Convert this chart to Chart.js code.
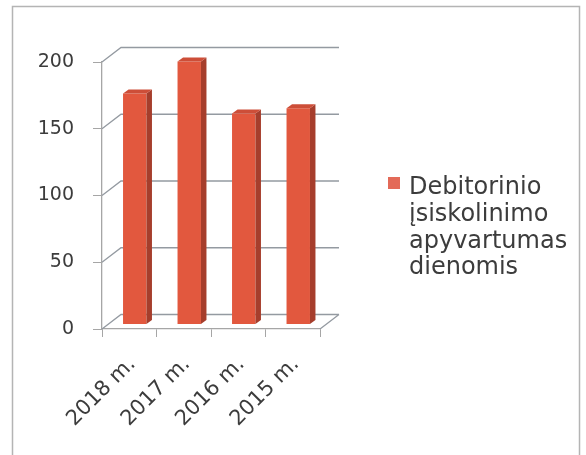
<!DOCTYPE html>
<html>
<head>
<meta charset="utf-8">
<script src="https://cdn.jsdelivr.net/npm/chart.js@4/dist/chart.umd.min.js"></script>
<style>
  body { margin: 0; background: #fff; }
  #wrap { width: 586px; height: 455px; }
</style>
</head>
<body>
<div id="wrap"><canvas id="debtChart" width="586" height="455"></canvas></div>
<script>
// Data
const categories = ['2018 m.', '2017 m.', '2016 m.', '2015 m.'];
const seriesLabel = 'Debitorinio įsiskolinimo apyvartumas dienomis';
const seriesValues = [173, 197, 158, 162];
const yTicks = [0, 50, 100, 150, 200];

// 3D look
const WALL_DX = 19, WALL_DY = -14.5;   // back wall offset
const BAR_DX = 5.5, BAR_DY = -4.5;     // bars sit a bit into the box
const DEPTH_X = 5.5, DEPTH_Y = -4;     // bar depth
const FRONT = '#e2583e', SIDE = '#a63e2c', TOP = '#cd4e38';
const GRID = '#949aa1', AXIS = '#a6a6a6', TEXT = '#3c3c3c';
const FONT = '"DejaVu Sans", sans-serif';

function poly(ctx, pts, fill) {
    ctx.beginPath();
    ctx.moveTo(pts[0][0], pts[0][1]);
    pts.slice(1).forEach(p => ctx.lineTo(p[0], p[1]));
    ctx.closePath();
    ctx.fillStyle = fill;
    ctx.fill();
}

const box3d = {
    id: 'box3d',
    beforeDraw(chart) {
        const ctx = chart.ctx;
        ctx.save();
        ctx.strokeStyle = '#b4b4b4';
        ctx.lineWidth = 1.5;
        ctx.strokeRect(12.5, 6.5, 567, 470);
        ctx.restore();
    },
    beforeDatasetsDraw(chart) {
        const { ctx, chartArea: a, scales: { y } } = chart;
        ctx.save();
        ctx.strokeStyle = GRID;
        ctx.lineWidth = 1.3;
        ctx.beginPath();
        yTicks.forEach(v => {
            const py = y.getPixelForValue(v);
            ctx.moveTo(a.left, py);
            ctx.lineTo(a.left + WALL_DX, py + WALL_DY);
            ctx.lineTo(a.right + WALL_DX, py + WALL_DY);
        });
        ctx.moveTo(a.right, a.bottom);
        ctx.lineTo(a.right + WALL_DX, a.bottom + WALL_DY);
        ctx.stroke();
        ctx.restore();
        // shift the bars into the middle of the box
        ctx.save();
        ctx.translate(BAR_DX, BAR_DY);
    },
    afterDatasetsDraw(chart) {
        const ctx = chart.ctx;
        chart.getDatasetMeta(0).data.forEach(bar => {
            const { x, y, base, width } = bar.getProps(['x', 'y', 'base', 'width'], true);
            const l = x - width / 2, r = x + width / 2;
            poly(ctx, [[r, y], [r + DEPTH_X, y + DEPTH_Y], [r + DEPTH_X, base + DEPTH_Y], [r, base]], SIDE);
            poly(ctx, [[l, y], [l + DEPTH_X, y + DEPTH_Y], [r + DEPTH_X, y + DEPTH_Y], [r, y]], TOP);
        });
        ctx.restore();
    },
    afterDraw(chart) {
        // legend, one word per line like the original
        const ctx = chart.ctx;
        ctx.save();
        ctx.fillStyle = '#e36a58';
        ctx.fillRect(388, 177, 12, 12);
        ctx.fillStyle = TEXT;
        ctx.font = '24px ' + FONT;
        ctx.textBaseline = 'middle';
        seriesLabel.split(' ').forEach((word, i) => {
            ctx.fillText(word, 409, 188 + i * 26.7);
        });
        ctx.restore();
    }
};

const ctx = document.getElementById('debtChart').getContext('2d');
new Chart(ctx, {
    type: 'bar',
    data: {
        labels: categories,
        datasets: [{
            label: seriesLabel,
            data: seriesValues,
            backgroundColor: FRONT,
            borderWidth: 0,
            categoryPercentage: 1,
            barPercentage: 0.43,
            clip: false,
        }],
    },
    options: {
        responsive: false,
        animation: false,
        layout: { padding: { left: 0, top: 62, right: 266, bottom: 0 } },
        plugins: {
            legend: { display: false },
            tooltip: { enabled: false },
        },
        scales: {
            y: {
                min: 0,
                max: 200,
                afterFit: s => { s.width = 102; },
                ticks: {
                    stepSize: 50,
                    padding: 19,
                    color: TEXT,
                    font: { family: FONT, size: 19 },
                },
                grid: { drawOnChartArea: false, tickLength: 9, color: AXIS },
                border: { color: AXIS, width: 1.3 },
            },
            x: {
                afterFit: s => { s.height = 126; },
                ticks: {
                    minRotation: 45,
                    maxRotation: 45,
                    padding: 15,
                    labelOffset: 3,
                    color: TEXT,
                    font: { family: FONT, size: 21 },
                },
                grid: { drawOnChartArea: false, tickLength: 8, color: AXIS },
                border: { color: AXIS, width: 1.3 },
            },
        },
    },
    plugins: [box3d],
});
</script>
</body>
</html>
